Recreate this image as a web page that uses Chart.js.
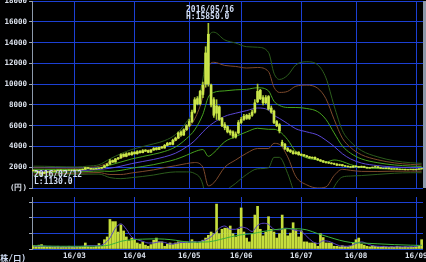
<!DOCTYPE html>
<html>
<head>
<meta charset="utf-8">
<script src="https://cdn.jsdelivr.net/npm/chart.js@4.4.1/dist/chart.umd.min.js"></script>
<style>
  html, body { margin: 0; padding: 0; background: #000; }
  body { width: 426px; height: 262px; position: relative; overflow: hidden; }
  #price { position: absolute; left: 0; top: 0; }
  #vol { position: absolute; left: 0; top: 192px; }
</style>
</head>
<body>
<canvas id="price" width="426" height="192"></canvas>
<canvas id="vol" width="426" height="70"></canvas>
<script>
// trading day index 0 = 2016/02/08
const monthIdx = [15, 37, 57, 76, 98, 118, 140];
const monthLabels = ["16/03", "16/04", "16/05", "16/06", "16/07", "16/08", "16/09"];

const openP = [1700,1650,1600,1480,1400,1520,1580,1640,1600,1660,
  1720,1690,1640,1710,1680,1730,1700,1730,1760,1800,
  1960,1890,1810,1840,1870,1900,1980,2150,2300,2650,
  2500,2800,2900,3250,3050,3350,3200,3450,3300,3550,
  3400,3650,3600,3450,3650,3850,3700,3950,3850,4100,
  4350,4200,4600,4800,5400,5100,5600,6000,6400,7300,
  8600,8100,9000,10000,14800,9900,8500,7200,7800,6700,
  6100,5900,5500,5400,4900,5300,6300,6600,7000,6700,
  7000,7300,8300,9400,8700,8200,8800,7700,7400,6400,
  6100,4400,4200,3800,3650,3500,3300,3450,3250,3200,
  3100,3000,2880,2950,2800,2700,2620,2520,2460,2400,
  2350,2300,2200,2250,2150,2100,2060,2000,2100,2060,
  2000,2080,1990,1920,1960,2000,2050,1960,1910,1870,
  1920,1860,1820,1850,1810,1780,1800,1760,1780,1800,
  1760,1800,1840];
const highP = [1750,1700,1620,1500,1560,1600,1650,1670,1690,1740,
  1750,1710,1730,1740,1740,1760,1760,1780,1830,2000,
  1990,1900,1870,1900,1930,2000,2200,2350,2750,2700,
  2850,2950,3300,3300,3400,3400,3500,3500,3600,3600,
  3700,3700,3650,3700,3900,3900,3950,4000,4200,4400,
  4400,4700,4900,5400,5500,5700,6100,6600,7500,8700,
  8800,9400,10200,13600,15850,10000,8700,8500,7900,6800,
  6300,6000,5600,5500,5400,6500,6800,7100,7100,7200,
  7500,8500,10000,9500,8900,8900,8900,7900,7500,6500,
  6200,4600,4300,3900,3700,3600,3500,3500,3300,3250,
  3150,3050,3000,3000,2850,2750,2650,2550,2500,2450,
  2400,2350,2300,2280,2180,2130,2080,2150,2150,2080,
  2120,2100,2010,1990,2030,2100,2070,1980,1930,1950,
  1940,1880,1870,1870,1830,1820,1820,1800,1820,1820,
  1820,1860,1920];
const lowP = [1620,1560,1430,1130,1380,1500,1560,1580,1590,1640,
  1660,1620,1620,1670,1670,1680,1690,1720,1750,1780,
  1860,1800,1800,1820,1850,1880,1960,2120,2280,2450,
  2480,2750,2850,3000,3000,3150,3150,3250,3250,3350,
  3380,3500,3400,3420,3620,3650,3680,3800,3820,4050,
  4150,4150,4550,4750,5000,5050,5550,5900,6300,7200,
  8000,8000,8700,9700,9800,7800,6800,6600,6500,5900,
  5600,5300,5100,4800,4800,5200,6200,6500,6600,6600,
  6900,7200,8200,8500,8000,8100,7500,7200,6200,5900,
  5300,4000,3700,3500,3400,3250,3250,3150,3100,3050,
  2950,2850,2850,2750,2650,2550,2450,2400,2350,2300,
  2250,2150,2150,2100,2050,2000,1950,1980,2000,1950,
  1980,1950,1900,1900,1940,1980,1930,1880,1860,1860,
  1840,1800,1810,1780,1760,1770,1740,1750,1770,1740,
  1750,1790,1830];
const closeP = [1650,1600,1480,1380,1520,1580,1620,1600,1660,1700,
  1680,1640,1700,1690,1720,1700,1730,1760,1800,1950,
  1880,1820,1840,1880,1900,1980,2150,2300,2600,2500,
  2800,2900,3200,3050,3300,3200,3400,3300,3500,3400,
  3600,3550,3450,3650,3800,3700,3900,3850,4100,4300,
  4200,4600,4800,5300,5100,5600,6000,6400,7300,8500,
  8100,9300,9900,13000,10000,8000,7000,7900,6600,6000,
  5800,5400,5300,5000,5200,6300,6600,6900,6700,7000,
  7300,8200,9300,8600,8200,8700,7600,7300,6300,6000,
  5500,4100,3800,3600,3500,3300,3400,3200,3150,3100,
  3000,2900,2950,2800,2700,2600,2500,2450,2400,2350,
  2300,2200,2250,2150,2100,2050,2000,2100,2050,2000,
  2080,1980,1920,1960,2000,2050,1950,1900,1880,1920,
  1860,1820,1850,1800,1780,1800,1760,1780,1800,1760,
  1800,1840,1880];
const volume = [6000,5000,7000,8000,5000,4000,5000,3000,4000,5000,
  3000,4000,3000,5000,4000,3000,4000,3000,4000,11000,
  4000,3000,3000,5000,10000,5000,17000,22000,54000,50000,
  50000,31000,44000,33000,22000,15000,20000,17000,11000,9000,
  13000,7000,5000,8000,16000,20000,13000,13000,5000,9000,
  11000,8000,11000,13000,13000,12000,13000,11000,17000,13000,
  11000,13000,16000,20000,25000,31000,28000,82000,28000,36000,
  38000,38000,42000,28000,22000,36000,75000,31000,20000,13000,
  27000,62000,78000,36000,24000,31000,59000,36000,31000,20000,
  28000,62000,36000,24000,29000,48000,35000,22000,33000,13000,
  13000,11000,11000,11000,5000,28000,21000,11000,11000,11000,
  5000,5000,4000,6000,5000,4000,5000,11000,17000,20000,
  9000,7000,5000,4000,6000,5000,4000,3000,5000,4000,
  3000,4000,3000,5000,4000,3000,4000,3000,4000,3000,
  4000,5000,17000];

// bollinger band lines, read at these day indices
const bandIdx = [0,4,8,12,16,20,24,28,32,36,40,44,48,52,56,59,62,64,66,70,
  74,78,82,86,88,90,93,96,100,104,107,110,113,116,120,126,132,138,142];
const bandMA = [1650,1640,1640,1650,1670,1720,1790,1900,2100,2350,2550,2750,3000,3350,3950,4550,5400,5900,6300,6900,
  7200,7450,7700,7500,7000,6700,6200,5700,5400,5100,4600,4000,3300,2800,2400,2150,2020,1950,1920];
const bandP1 = [1800,1790,1780,1780,1790,1850,1940,2200,2500,2800,3030,3250,3520,3950,4750,5600,7100,8750,9200,9350,
  9450,9500,9650,9350,8350,7950,7750,7750,7650,7350,6600,5300,4050,3350,2800,2430,2220,2110,2070];
const bandP2 = [1950,1940,1920,1910,1910,1980,2090,2500,2900,3250,3510,3750,4040,4550,5550,6650,8800,11600,12100,11800,
  11700,11550,11600,11200,9700,9200,9300,9800,9900,9600,8600,6600,4800,3900,3200,2710,2420,2270,2220];
const bandP3 = [2100,2090,2060,2040,2030,2110,2240,2800,3300,3700,3990,4250,4560,5150,6350,7700,10500,14450,15000,14250,
  13950,13600,13550,13050,11050,10450,10850,11850,12150,11850,10600,7900,5550,4450,3600,2990,2620,2430,2370];
const bandM1 = [1500,1490,1500,1520,1550,1590,1640,1600,1700,1900,2070,2250,2480,2750,3150,3500,3700,3050,3400,4450,
  4950,5400,5750,5650,5650,5450,4650,3500,2900,2700,2500,2700,2550,2250,2000,1870,1820,1790,1770];
const bandM2 = [1350,1340,1360,1390,1430,1460,1490,1300,1300,1450,1590,1750,1960,2150,2350,2450,2000,200,500,2000,
  2700,3350,3800,3800,4300,4200,3000,1100,300,0,100,1200,1800,1700,1600,1590,1620,1630,1620];
const bandM3 = [1200,1190,1220,1260,1310,1330,1340,1000,900,1000,1110,1250,1440,1550,1550,1400,300,-2650,-2400,-450,
  450,1300,1850,1950,2950,2950,1400,-800,-1700,-2000,-1800,100,1050,1150,1200,1310,1420,1470,1470];

// volume moving averages
const vol25Idx = [0,10,20,25,28,32,36,40,44,48,52,56,60,64,68,72,76,80,84,88,92,96,100,104,108,112,116,120,126,132,138,142];
const vol25 = [6000,5000,5000,5500,7500,14000,17000,18000,18500,18000,16000,13000,12500,13000,17000,22000,26000,28000,32000,35000,
  37000,37000,35000,28000,22000,16000,12000,11000,9500,8000,7000,6500];
const vol5Idx = [0,4,8,12,16,20,24,26,28,30,32,34,36,38,40,42,44,46,48,50,
  52,54,56,58,60,62,64,66,68,70,72,74,76,78,80,82,84,86,88,90,
  92,94,96,98,100,102,104,106,108,110,112,114,116,118,120,122,124,126,130,134,138,142];
const vol5 = [5000,5000,4000,4000,4000,6000,6000,10000,20000,38000,46000,36000,22000,17000,14000,11000,11000,13000,12000,9000,
  10000,12000,12000,13000,13000,15000,19000,27000,38000,42000,36000,36000,40000,38000,32000,43000,47000,45000,36000,35000,
  38000,37000,34000,32000,23000,14000,10000,15000,14000,10000,6000,5000,6000,10000,13000,10000,6000,5000,4000,4000,4000,7000];

const GRID = "#1c40d4";
const TXT = "#dde3ee";
const FONT = { family: "'DejaVu Sans Mono', monospace", size: 7.5, weight: "bold" };

const pts = (xs, ys) => xs.map((x, k) => ({ x: x, y: ys[k] }));

const overlay = {
  id: "overlay",
  afterDraw(chart, args, opts) {
    const ctx = chart.ctx;
    const a = chart.chartArea;
    ctx.save();
    if (opts.edge) {
      ctx.fillStyle = "#8d9aab";
      ctx.fillRect(a.right, a.top, 3, a.bottom - a.top);
    }
    ctx.font = "bold 8px 'DejaVu Sans Mono', 'Noto Sans CJK JP', monospace";
    ctx.fillStyle = "#cfdcf4";
    ctx.textBaseline = "middle";
    (opts.texts || []).forEach((t) => {
      ctx.textAlign = t[3] || "left";
      ctx.fillText(t[0], t[1], t[2]);
    });
    ctx.restore();
  },
};

function xScale(showLabels, h) {
  return {
    type: "linear",
    min: -0.5,
    max: 142.5,
    offset: false,
    afterBuildTicks: (s) => { s.ticks = monthIdx.map((v) => ({ value: v })); },
    afterFit: (s) => { s.height = h; s.paddingLeft = 0; s.paddingRight = 0; },
    ticks: {
      display: showLabels,
      autoSkip: false,
      maxRotation: 0,
      padding: 3,
      color: TXT,
      font: FONT,
      callback: (v, i) => monthLabels[i],
    },
    grid: { color: GRID, drawTicks: false, offset: false },
    border: { display: false },
  };
}

function lineDs(xs, ys, color, order) {
  return {
    type: "line",
    data: pts(xs, ys),
    borderColor: color,
    borderWidth: 1,
    pointRadius: 0,
    fill: false,
    cubicInterpolationMode: "monotone",
    order: order,
  };
}

new Chart(document.getElementById("price"), {
  type: "bar",
  data: {
    datasets: [
      {
        data: openP.map((o, i) => ({ x: i, y: [o, closeP[i]] })),
        backgroundColor: "#cbe64a",
        barThickness: 2,
        grouped: false,
        order: 0,
      },
      {
        data: lowP.map((l, i) => ({ x: i, y: [l, highP[i]] })),
        backgroundColor: "#a9c636",
        barThickness: 1,
        grouped: false,
        order: 1,
      },
      lineDs(bandIdx, bandMA, "#5b47d6", 2),
      lineDs(bandIdx, bandP1, "#46a21e", 3),
      lineDs(bandIdx, bandM1, "#46a21e", 3),
      lineDs(bandIdx, bandP2, "#7e4a2c", 4),
      lineDs(bandIdx, bandM2, "#7e4a2c", 4),
      lineDs(bandIdx, bandP3, "#2c5c1c", 5),
      lineDs(bandIdx, bandM3, "#2c5c1c", 5),
    ],
  },
  options: {
    responsive: false,
    animation: false,
    devicePixelRatio: 1,
    layout: { padding: { top: 1, right: 3, bottom: 4, left: 0 } },
    plugins: {
      legend: { display: false },
      tooltip: { enabled: false },
      overlay: {
        edge: true,
        texts: [
          ["2016/05/16", 186, 10],
          ["H:15850.0", 186, 17],
          ["2016/02/12", 34, 174.5],
          ["L:1130.0", 34, 181.5],
        ],
      },
    },
    scales: {
      x: xScale(false, 0),
      y: {
        min: 0,
        max: 18000,
        afterFit: (s) => { s.width = 32; s.paddingTop = 0; s.paddingBottom = 0; },
        ticks: {
          stepSize: 2000,
          color: TXT,
          font: FONT,
          padding: 2,
          callback: (v) => (v === 0 ? "(円)" : v),
        },
        grid: { color: GRID, tickColor: "#9aa4b4", tickLength: 3 },
        border: { color: "#8d9aab" },
      },
    },
  },
  plugins: [overlay],
});

new Chart(document.getElementById("vol"), {
  type: "bar",
  data: {
    datasets: [
      {
        data: volume.map((v, i) => ({ x: i, y: v })),
        backgroundColor: "#c6de3c",
        barThickness: 2,
        grouped: false,
        order: 2,
      },
      lineDs(vol5Idx, vol5, "#5a44c8", 1),
      lineDs(vol25Idx, vol25, "#3cb43c", 0),
    ],
  },
  options: {
    responsive: false,
    animation: false,
    devicePixelRatio: 1,
    layout: { padding: { top: 5, right: 3, bottom: 0, left: 0 } },
    plugins: {
      legend: { display: false },
      tooltip: { enabled: false },
      overlay: { texts: [["(株/口)", 26, 67, "right"]] },
    },
    scales: {
      x: xScale(true, 13),
      y: {
        min: 0,
        max: 95000,
        afterFit: (s) => { s.width = 32; s.paddingTop = 0; s.paddingBottom = 0; },
        ticks: {
          stepSize: 10000,
          color: TXT,
          font: FONT,
          padding: 2,
          callback: (v) => (v > 0 && v <= 80000 && v % 20000 === 0 ? v : ""),
        },
        grid: { color: GRID, tickColor: "#9aa4b4", tickLength: 3 },
        border: { color: "#8d9aab" },
      },
    },
  },
  plugins: [overlay],
});
</script>
</body>
</html>
